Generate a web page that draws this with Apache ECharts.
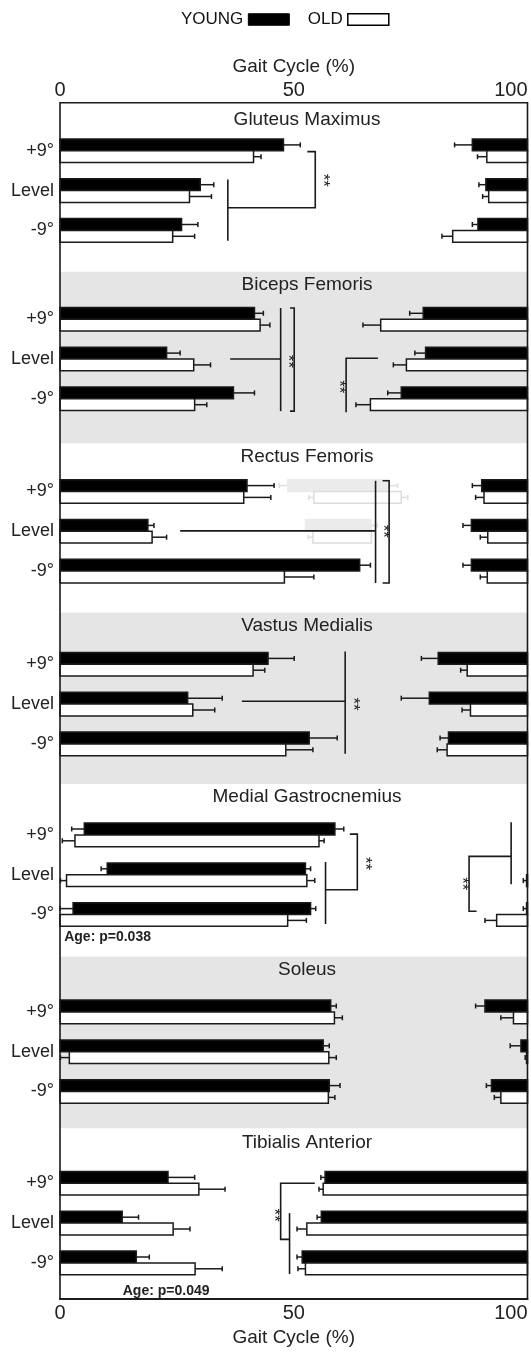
<!DOCTYPE html>
<html>
<head>
<meta charset="utf-8">
<script src="https://cdn.jsdelivr.net/npm/echarts@6/dist/echarts.min.js"></script>
<style>
html,body{margin:0;padding:0;background:#fff;}
#chart{width:531px;height:1355px;}
</style>
</head>
<body>
<div id="chart"></div>
<script>
// ---------------- DATA ----------------
const conditions = ['+9°', 'Level', '-9°'];
const muscles = ['Gluteus Maximus', 'Biceps Femoris', 'Rectus Femoris', 'Vastus Medialis',
                 'Medial Gastrocnemius', 'Soleus', 'Tibialis Anterior'];
const xTicks = [0, 50, 100];

// each burst: [onset %, onset SD, offset %, offset SD]  (rows: +9°, Level, -9°)
const gluteusYoung = [[[0,0,47.8,3.6],[88.2,3.8,100,0]], [[0,0,30.0,2.9],[91.1,1.5,100,0]], [[0,0,26.0,3.5],[89.4,1.2,100,0]]];
const gluteusOld   = [[[0,0,41.4,1.6],[91.3,2.0,100,0]], [[0,0,27.7,4.7],[91.7,1.3,100,0]], [[0,0,24.1,4.7],[84.0,2.3,100,0]]];
const bicepsYoung  = [[[0,0,41.6,1.9],[77.7,2.9,100,0]], [[0,0,22.8,2.9],[78.2,2.3,100,0]], [[0,0,37.1,4.5],[73.0,2.9,100,0]]];
const bicepsOld    = [[[0,0,42.8,2.1],[68.6,3.8,100,0]], [[0,0,28.6,3.6],[74.1,2.8,100,0]], [[0,0,28.8,2.6],[66.4,3.1,100,0]]];
const rectusYoung  = [[[0,0,40.0,5.8],[90.2,2.0,100,0]], [[0,0,18.8,1.3],[88.0,1.8,100,0]], [[0,0,64.1,2.3],[88.0,1.8,100,0]]];
const rectusOld    = [[[0,0,39.3,5.8],[90.7,1.8,100,0]], [[0,0,19.7,3.1],[91.5,1.6,100,0]], [[0,0,48.0,6.3],[91.4,1.5,100,0]]];
const vastusYoung  = [[[0,0,44.5,5.6],[80.9,3.6,100,0]], [[0,0,27.3,7.4],[79.0,6.0,100,0]], [[0,0,53.3,6.0],[83.1,1.8,100,0]]];
const vastusOld    = [[[0,0,41.3,2.5],[87.1,1.4,100,0]], [[0,0,28.4,4.7],[87.8,1.8,100,0]], [[0,0,48.3,5.8],[82.8,2.1,100,0]]];
const gastrocYoung = [[[5.2,2.7,58.8,1.9]], [[10.1,1.3,52.5,1.1]], [[2.8,2.8,53.6,1.1],[99.8,0.7,100,0]]];
const gastrocOld   = [[[3.2,2.7,55.4,1.1]], [[1.4,1.3,52.8,1.7],[99.8,0.7,100,0]], [[0,0,48.7,4.0],[93.4,2.5,100,0]]];
const soleusYoung  = [[[0,0,57.9,1.2],[90.9,2.0,100,0]], [[0,0,56.3,1.3],[98.6,2.3,100,0]], [[0,0,57.6,2.3],[92.3,1.1,100,0]]];
const soleusOld    = [[[0,0,58.7,1.7],[97.0,2.7,100,0]], [[2.0,1.9,57.5,1.6],[99.8,0.3,100,0]], [[0,0,57.4,1.4],[94.3,1.4,100,0]]];
const tibialisYoung= [[[0,0,23.1,5.7],[56.7,0.9,100,0]], [[0,0,13.3,3.5],[55.9,0.9,100,0]], [[0,0,16.3,2.8],[51.8,1.1,100,0]]];
const tibialisOld  = [[[0,0,29.7,5.6],[56.3,0.9,100,0]], [[0,0,24.2,3.6],[52.8,2.1,100,0]], [[0,0,28.9,5.8],[52.5,1.6,100,0]]];

// faint (ghost) bursts visible in the Rectus Femoris panel
const rectusGhostYoung = [[[48.7,1.8,70.3,1.9]], [[52.5,0,66.6,1.3]], []];
const rectusGhostOld   = [[[54.3,1.1,73.0,1.4]], [[54.1,1.0,66.6,0]], []];

// significance brackets: polylines in [gait %, row] units
const gluteusBrackets  = [[[35.9,0.72],[35.9,2.26]], [[52.9,0.02],[54.6,0.02],[54.6,1.43],[35.9,1.43]]];
const bicepsBrackets   = [[[47.2,-0.28],[47.2,2.31]], [[36.4,1.0],[47.2,1.0]], [[49.2,-0.28],[50.1,-0.28],[50.1,2.31],[49.2,2.31]], [[68.0,0.98],[61.2,0.98],[61.2,2.34]]];
const rectusBrackets   = [[[67.5,-0.27],[67.5,2.3]], [[25.7,0.99],[67.5,0.99]], [[69.0,-0.27],[70.4,-0.27],[70.4,2.3],[69.0,2.3]]];
const vastusBrackets   = [[[61.0,-0.32],[61.0,2.25]], [[38.9,0.93],[61.0,0.93]]];
const gastrocBrackets  = [[[56.8,0.68],[56.8,2.24]], [[62.0,-0.02],[63.6,-0.02],[63.6,1.38],[56.8,1.38]], [[96.5,-0.32],[96.5,1.24]], [[96.5,0.54],[87.5,0.54],[87.5,1.92],[89.1,1.92]]];
const soleusBrackets   = [];
const tibialisBrackets = [[[54.5,0],[47.2,0],[47.2,1.41],[49.1,1.41]], [[49.1,0.75],[49.1,2.28]]];

// "**" marks: [gait %, row]
const gluteusStars = [[56.2,0.74]];
const bicepsStars = [[48.6,1.06],[59.6,1.70]];
const rectusStars = [[69.1,1.0]];
const vastusStars = [[62.5,1.0]];
const gastrocStars = [[65.1,0.72],[86.0,1.23]];
const soleusStars = [];
const tibialisStars = [[45.8,0.8]];

// age-effect notes: [gait %, row, text]
const gastrocNotes = [[0.9, 2.58, 'Age: p=0.038']];
const tibialisNotes = [[22.7, 2.71, 'Age: p=0.049']];

const youngSets = [gluteusYoung, bicepsYoung, rectusYoung, vastusYoung, gastrocYoung, soleusYoung, tibialisYoung];
const oldSets = [gluteusOld, bicepsOld, rectusOld, vastusOld, gastrocOld, soleusOld, tibialisOld];
const bracketSets = [gluteusBrackets, bicepsBrackets, rectusBrackets, vastusBrackets, gastrocBrackets, soleusBrackets, tibialisBrackets];
const starSets = [gluteusStars, bicepsStars, rectusStars, vastusStars, gastrocStars, soleusStars, tibialisStars];
const noteSets = [[], [], [], [], gastrocNotes, [], tibialisNotes];

// ---------------- LAYOUT ----------------
const FONT = '"Liberation Sans", Arial, sans-serif';
const W = 531, H = 1355;
const PLOT_L = 60, PLOT_R = 527.5;
const BAND = [102.7, 271.8, 443.4, 612.5, 784, 956.5, 1128.4, 1299];
const ROW1 = [150.8, 319.2, 491.5, 664.3, 834.9, 1011.9, 1183.3];
const TITLE_Y = [120.3, 285.3, 457, 626, 797, 970, 1143.6];
const PITCH = 39.8;
const BAR_H = 11.8;
const CAP = 2.5;
const INK = '#1a1a1a';

function rowsOf(set) {
  const out = [];
  set.forEach((bursts, r) => bursts.forEach(b => out.push([b[0], b[1], b[2], b[3], r])));
  return out;
}

function barRenderer(group, ghost) {
  return function (params, api) {
    const on = api.value(0), onSD = api.value(1), off = api.value(2), offSD = api.value(3), row = api.value(4);
    const a = api.coord([on, row]), b = api.coord([off, row]);
    const y0 = group === 0 ? a[1] - BAR_H : a[1];
    const ym = y0 + BAR_H / 2;
    let fill, stroke, eStroke;
    if (ghost) {
      fill = group === 0 ? '#ebebeb' : '#ffffff';
      stroke = group === 0 ? '#ebebeb' : '#dcdcdc';
      eStroke = '#dedede';
    } else {
      fill = group === 0 ? '#000000' : '#ffffff';
      stroke = INK; eStroke = INK;
    }
    const children = [];
    function err(xFrom, val) {
      const xe = api.coord([val, row])[0];
      children.push({type: 'line', shape: {x1: xFrom, y1: ym, x2: xe, y2: ym}, style: {stroke: eStroke, lineWidth: 1.5}});
      children.push({type: 'line', shape: {x1: xe, y1: ym - CAP, x2: xe, y2: ym + CAP}, style: {stroke: eStroke, lineWidth: 1.5}});
    }
    if (onSD > 0) err(a[0], on - onSD);
    if (offSD > 0) err(b[0], off + offSD);
    children.push({type: 'rect', shape: {x: a[0], y: y0, width: b[0] - a[0], height: BAR_H},
                   style: {fill: fill, stroke: stroke, lineWidth: 1.5}});
    return {type: 'group', children: children};
  };
}

function bracketRenderer(list) {
  return function (params, api) {
    const pts = list[api.value(0)].map(p => api.coord(p));
    return {type: 'polyline', shape: {points: pts}, style: {stroke: INK, lineWidth: 1.6, fill: 'none'}};
  };
}

function starRenderer(params, api) {
  const p = api.coord([api.value(0), api.value(1)]);
  return {type: 'text', x: p[0], y: p[1], rotation: -Math.PI / 2,
          style: {text: '**', x: 0, y: 0, align: 'center', verticalAlign: 'middle', fill: '#222', font: '17px ' + FONT}};
}

function noteRenderer(list, align) {
  return function (params, api) {
    const item = list[params.dataIndex];
    const p = api.coord([item[0], item[1]]);
    return {type: 'text', x: p[0], y: p[1],
            style: {text: item[2], x: 0, y: 0, align: align, verticalAlign: 'middle', fill: '#222', font: 'bold 14px ' + FONT}};
  };
}

const grids = [], xAxes = [], yAxes = [], series = [], titles = [];
muscles.forEach((name, i) => {
  const top = BAND[i], h = BAND[i + 1] - BAND[i];
  grids.push({left: PLOT_L, right: W - PLOT_R, top: top, height: h, show: true,
              backgroundColor: i % 2 === 1 ? '#e5e5e5' : '#ffffff', borderWidth: 0});
  xAxes.push({type: 'value', gridIndex: i, min: 0, max: 100, show: false});
  yAxes.push({type: 'value', gridIndex: i, inverse: true,
              min: -(ROW1[i] - top) / PITCH, max: (BAND[i + 1] - ROW1[i]) / PITCH,
              axisLine: {show: false}, axisTick: {show: false}, splitLine: {show: false},
              axisLabel: {customValues: [0, 1, 2], formatter: v => conditions[Math.round(v)] || '',
                          fontSize: 18, fontFamily: FONT, color: '#222', margin: 6}});
  titles.push({text: name, left: 307, top: TITLE_Y[i] - 10, textAlign: 'center', padding: 0,
               textStyle: {fontSize: 19, fontWeight: 'normal', fontFamily: FONT, color: '#222'}});

  if (i === 2) {
    series.push({type: 'custom', name: 'ghost', xAxisIndex: i, yAxisIndex: i, z: 1,
                 renderItem: barRenderer(0, true), data: rowsOf(rectusGhostYoung)});
    series.push({type: 'custom', name: 'ghost', xAxisIndex: i, yAxisIndex: i, z: 1,
                 renderItem: barRenderer(1, true), data: rowsOf(rectusGhostOld)});
  }
  series.push({type: 'custom', name: 'YOUNG', xAxisIndex: i, yAxisIndex: i, z: 3,
               itemStyle: {color: '#000', borderColor: '#000', borderWidth: 1},
               renderItem: barRenderer(0, false), data: rowsOf(youngSets[i])});
  series.push({type: 'custom', name: 'OLD', xAxisIndex: i, yAxisIndex: i, z: 3,
               itemStyle: {color: '#fff', borderColor: '#000', borderWidth: 1.5},
               renderItem: barRenderer(1, false), data: rowsOf(oldSets[i])});
  if (bracketSets[i].length) {
    series.push({type: 'custom', name: 'bracket', xAxisIndex: i, yAxisIndex: i, z: 4,
                 renderItem: bracketRenderer(bracketSets[i]), data: bracketSets[i].map((_, k) => [k, 0])});
  }
  if (starSets[i].length) {
    series.push({type: 'custom', name: 'stars', xAxisIndex: i, yAxisIndex: i, z: 4,
                 renderItem: starRenderer, data: starSets[i]});
  }
  if (noteSets[i].length) {
    series.push({type: 'custom', name: 'note', xAxisIndex: i, yAxisIndex: i, z: 4,
                 renderItem: noteRenderer(noteSets[i], i === 4 ? 'left' : 'center'),
                 data: noteSets[i].map(n => [n[0], n[1]])});
  }
});

// frame grid with top and bottom gait-cycle axes
const FI = muscles.length;
grids.push({left: PLOT_L, right: W - PLOT_R, top: BAND[0], bottom: H - BAND[BAND.length - 1], show: true,
            backgroundColor: 'transparent', borderColor: INK, borderWidth: 1.6, z: 5});
const axisCommon = {
  type: 'value', gridIndex: FI, min: 0, max: 100, interval: 50,
  axisLine: {show: true, lineStyle: {color: INK, width: 1.6}},
  axisTick: {show: false}, splitLine: {show: false},
  name: 'Gait Cycle (%)', nameLocation: 'middle',
  nameTextStyle: {fontSize: 19, fontFamily: FONT, color: '#222'}
};
xAxes.push(Object.assign({}, axisCommon, {position: 'top', nameGap: 24,
  axisLabel: {customValues: xTicks, fontSize: 20, fontFamily: FONT, color: '#222', margin: 2, alignMaxLabel: 'right'}}));
xAxes.push(Object.assign({}, axisCommon, {position: 'bottom', nameGap: 25,
  axisLabel: {customValues: xTicks, fontSize: 20, fontFamily: FONT, color: '#222', margin: 4, alignMaxLabel: 'right'}}));
yAxes.push({type: 'value', gridIndex: FI, min: 0, max: 1, show: false});

const chart = echarts.init(document.getElementById('chart'), null, {renderer: 'canvas', width: W, height: H});
chart.setOption({
  animation: false,
  backgroundColor: '#ffffff',
  title: titles,
  legend: {
    data: [{name: 'YOUNG', itemStyle: {color: '#000', borderColor: '#000', borderWidth: 1}},
           {name: 'OLD', itemStyle: {color: '#fff', borderColor: '#000', borderWidth: 1.5}}],
    left: 181, top: 11, padding: 0, align: 'right', icon: 'rect',
    itemWidth: 41, itemHeight: 11.5, itemGap: 18, selectedMode: false,
    textStyle: {fontSize: 17, fontFamily: FONT, color: '#111'}
  },
  grid: grids,
  xAxis: xAxes,
  yAxis: yAxes,
  series: series
});
</script>
</body>
</html>
